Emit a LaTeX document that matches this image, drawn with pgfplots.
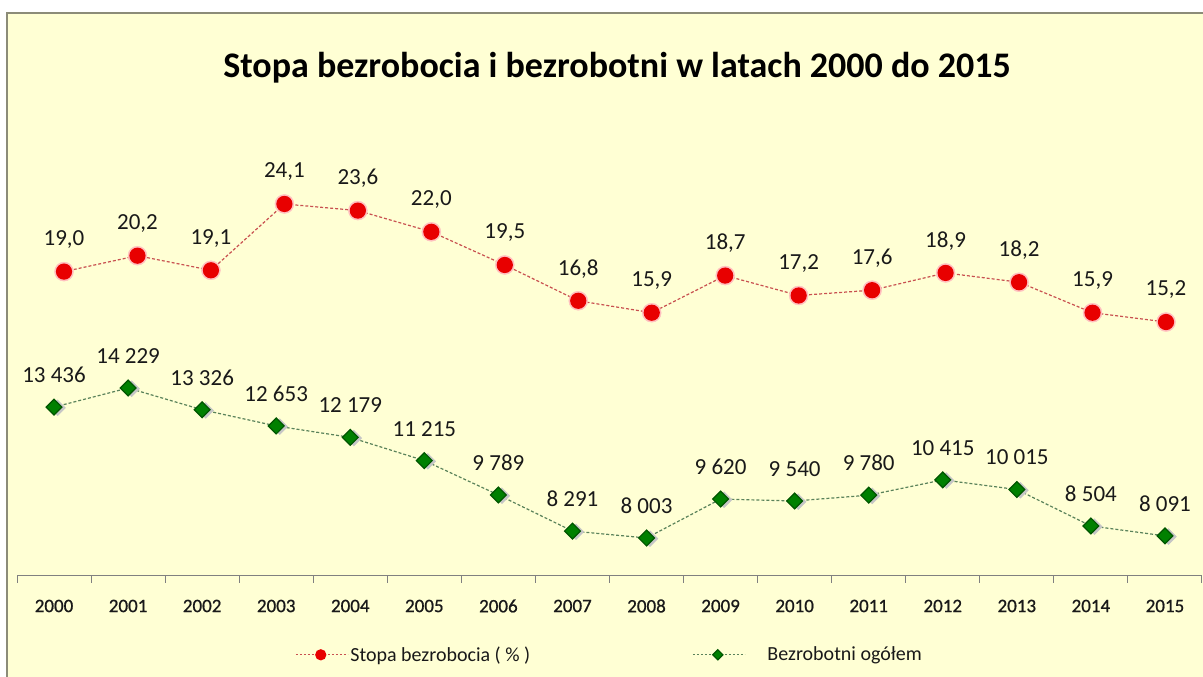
\documentclass[border=0pt]{standalone}
\usepackage{pgfplots}
\pgfplotsset{compat=1.18}
\usepackage{fontspec}
\setmainfont{Carlito}
\definecolor{bg}{RGB}{255,255,212}
\definecolor{framec}{RGB}{140,140,120}
\definecolor{axisgray}{RGB}{128,128,128}
\definecolor{redm}{RGB}{232,0,0}
\definecolor{redl}{RGB}{200,80,80}
\definecolor{greenm}{RGB}{0,128,0}
\definecolor{greend}{RGB}{0,85,0}
\definecolor{greenl}{RGB}{90,130,90}
\definecolor{txt}{RGB}{25,25,25}
\begin{document}
\begin{tikzpicture}[x=1pt,y=1pt]
\fill[white] (0,0) rectangle (1203,677);
\fill[bg] (7,-5) rectangle (1210,664);
\draw[framec, line width=1.5pt] (7,-5) -- (7,664) -- (1210,664);
\node[font=\bfseries\fontsize{36}{42}\selectfont, text=black] at (617,609) {Stopa bezrobocia i bezrobotni w latach 2000 do 2015};
% secondary (red) series: its own category axis, slightly offset as in the original
\begin{axis}[
  at={(17pt,101pt)}, anchor=south west, scale only axis,
  width=1185pt, height=426pt,
  xmin=-0.6397, xmax=15.49, ymin=-3.95, ymax=28.17,
  hide axis, clip=false,
  nodes near coords, point meta=explicit symbolic,
  nodes near coords align=center,
  every node near coord/.append style={yshift=32pt, font=\fontsize{23}{27}\selectfont, text=txt},
]
\addplot[only marks, mark=*, mark size=9.5pt, color=red!25, mark options={draw=none, fill=red!25}, nodes near coords={}] coordinates {
(0,19.0) (1,20.2) (2,19.1) (3,24.1) (4,23.6) (5,22.0) (6,19.5) (7,16.8) (8,15.9) (9,18.7) (10,17.2) (11,17.6) (12,18.9) (13,18.2) (14,15.9) (15,15.2)};
\addplot[color=redl, line width=1.2pt, dash pattern=on 3pt off 2pt, mark=*, mark size=7.5pt, mark options={solid, fill=redm, draw=redm}] coordinates {
(0,19.0) [19,0] (1,20.2) [20,2] (2,19.1) [19,1] (3,24.1) [24,1] (4,23.6) [23,6] (5,22.0) [22,0] (6,19.5) [19,5] (7,16.8) [16,8] (8,15.9) [15,9] (9,18.7) [18,7] (10,17.2) [17,2] (11,17.6) [17,6] (12,18.9) [18,9] (13,18.2) [18,2] (14,15.9) [15,9] (15,15.2) [15,2]};
\end{axis}
\begin{axis}[
  at={(17pt,101pt)}, anchor=south west, scale only axis,
  width=1185pt, height=426pt,
  xmin=-0.5, xmax=15.5, ymin=6426, ymax=24109,
  axis x line*=bottom, hide y axis,
  axis line style={draw=axisgray, line width=1pt, -},
  xtick={0,1,...,15},
  xticklabels={2000,2001,2002,2003,2004,2005,2006,2007,2008,2009,2010,2011,2012,2013,2014,2015},
  minor xtick={-0.5,0.5,...,15.5},
  major tick length=0pt, minor tick length=7pt, tick align=outside,
  minor tick style={draw=axisgray, line width=1pt},
  xticklabel style={font=\fontsize{19}{22}\selectfont\addfontfeatures{FakeBold=0.8}, text=txt, anchor=center, yshift=-30pt},
  clip=false,
  nodes near coords, point meta=explicit symbolic,
  nodes near coords align=center,
  every node near coord/.append style={yshift=32pt, font=\fontsize{23}{27}\selectfont, text=txt},
  legend columns=2,
  legend style={draw=none, fill=none, at={(0.5,-0.185)}, anchor=center,
    font=\fontsize{20}{24}\selectfont, text=txt,
    /tikz/every even column/.append style={column sep=160pt}},
  legend image code/.code={\draw[mark repeat=2,mark phase=2] plot coordinates {(0pt,0pt) (25pt,0pt) (52pt,0pt)};},
]
\addplot[only marks, mark=square*, mark size=5.6pt, color=gray!45, mark options={draw=none, fill=gray!45, rotate=45, xshift=2pt, yshift=-3pt}, nodes near coords={}, forget plot] coordinates {
(0,13436) (1,14229) (2,13326) (3,12653) (4,12179) (5,11215) (6,9789) (7,8291) (8,8003) (9,9620) (10,9540) (11,9780) (12,10415) (13,10015) (14,8504) (15,8091)};
\addplot[color=greenl, line width=1.2pt, dash pattern=on 3pt off 2pt, mark=square*, mark size=5.6pt, mark options={solid, fill=greenm, draw=greend, rotate=45}, forget plot] coordinates {
(0,13436) [13~436] (1,14229) [14~229] (2,13326) [13~326] (3,12653) [12~653] (4,12179) [12~179] (5,11215) [11~215] (6,9789) [9~789] (7,8291) [8~291] (8,8003) [8~003] (9,9620) [9~620] (10,9540) [9~540] (11,9780) [9~780] (12,10415) [10~415] (13,10015) [10~015] (14,8504) [8~504] (15,8091) [8~091]};
\addlegendimage{color=redl, line width=1.2pt, dash pattern=on 2pt off 2pt, mark=*, mark size=5pt, mark options={solid, fill=redm, draw=redm}}
\addlegendentry{Stopa bezrobocia ( \% )}
\addlegendimage{color=greenl, line width=1.2pt, dash pattern=on 2pt off 2pt, mark=square*, mark size=3.6pt, mark options={solid, fill=greenm, draw=greend, rotate=45}}
\addlegendentry{\hspace{20pt}Bezrobotni ogółem}
\end{axis}
\pgfresetboundingbox
\path[use as bounding box] (0,0) rectangle (1203,677);
\end{tikzpicture}
\end{document}
